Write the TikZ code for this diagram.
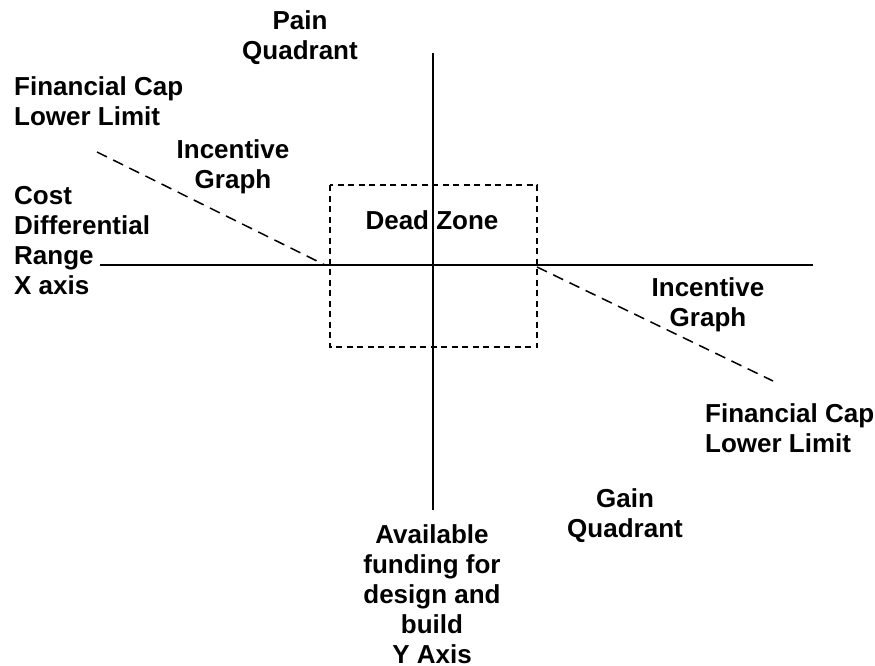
\documentclass[tikz,border=0pt]{standalone}
\usepackage{fontspec}
\setmainfont{Liberation Sans}
\begin{document}
\begin{tikzpicture}[x=1pt,y=-1pt,
  lbl/.style={font=\fontsize{26}{30}\selectfont\bfseries, inner sep=0pt, anchor=base},
  axisline/.style={line width=1.8pt},
  incline/.style={line width=1.5pt, dash pattern=on 11pt off 7pt},
  zonebox/.style={line width=1.5pt, dash pattern=on 6pt off 4.5pt}]
\useasboundingbox (0,0) rectangle (875,666);
% axes
\coordinate (ytop) at (433,53);
\coordinate (ybot) at (433,510);
\coordinate (xl) at (100,265);
\coordinate (xr) at (813,265);
\draw[axisline] (ytop) -- (ybot);
\draw[axisline] (xl) -- (xr);
% dead zone box
\coordinate (dz1) at (330,185);
\coordinate (dz2) at (537,347);
\draw[zonebox] (dz1) rectangle (dz2);
% incentive graphs
\coordinate (l1) at (97,152);
\coordinate (l2) at (325,265);
\coordinate (r1) at (537,267);
\coordinate (r2) at (773,381);
\draw[incline] (l1) -- (l2);
\draw[incline] (r1) -- (r2);
% labels (positioned by the baseline of their last line)
\node[lbl, align=center] (pain) at (300,60) {Pain\\Quadrant};
\node[lbl, align=left, anchor=base west] (fcl) at (14,125) {Financial Cap\\Lower Limit};
\node[lbl, align=center] (igl) at (233,188) {Incentive\\Graph};
\node[lbl, align=left, anchor=base west] (cost) at (14,294) {Cost\\Differential\\Range\\X axis};
\node[lbl] (dead) at (432,229) {Dead Zone};
\node[lbl, align=center] (igr) at (708,326) {Incentive\\Graph};
\node[lbl, align=left, anchor=base west] (fcr) at (705,452) {Financial Cap\\Lower Limit};
\node[lbl, align=center] (gain) at (625,537) {Gain\\Quadrant};
\node[lbl, align=center] (avail) at (432,663) {Available\\funding for\\design and\\build\\Y Axis};
\end{tikzpicture}
\end{document}
